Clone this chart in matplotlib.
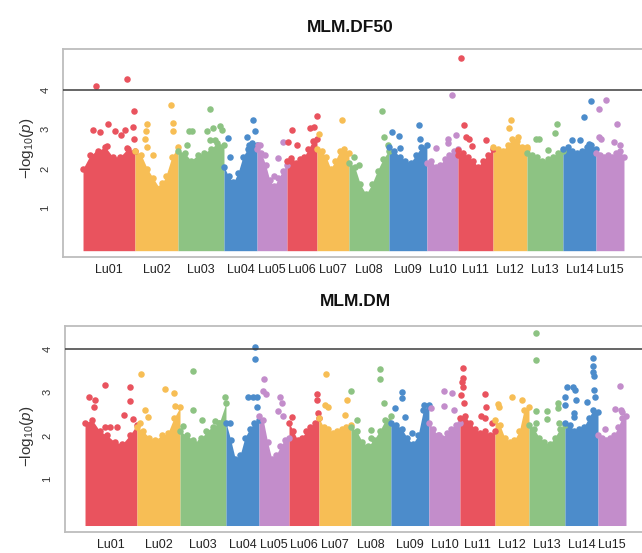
import numpy as np
import matplotlib
matplotlib.use("Agg")
import matplotlib.pyplot as plt

plt.rcParams['font.family'] = ['Liberation Sans', 'DejaVu Sans']
plt.rcParams['mathtext.fontset'] = 'custom'
plt.rcParams['mathtext.rm'] = 'Liberation Sans'
plt.rcParams['mathtext.it'] = 'Liberation Sans:italic'

# ---- genome layout -------------------------------------------------------
chromosomes = ["Lu01", "Lu02", "Lu03", "Lu04", "Lu05", "Lu06", "Lu07", "Lu08",
               "Lu09", "Lu10", "Lu11", "Lu12", "Lu13", "Lu14", "Lu15"]
chrom_length_mb = [28.6, 23.7, 25.3, 18.2, 16.5, 16.5, 17.6, 22.0,
                   20.9, 17.1, 19.3, 18.7, 19.8, 18.2, 15.4]
palette = ["#E9535E", "#F7BE55", "#8DC383", "#4C8CCB", "#C38DCB"]
threshold = 4.0

# ---- MLM.DF50 ------------------------------------------------------------
# upper edge of the dense SNP cloud, evenly spaced along each chromosome
df50_cloud_top = [
    [2.0, 2.35, 2.45, 2.55, 2.3, 2.3, 2.5, 2.45],
    [2.45, 2.35, 2.0, 1.75, 1.5, 1.8, 2.3, 2.55],
    [2.45, 2.4, 2.2, 2.35, 2.4, 2.5, 2.65, 2.6],
    [2.05, 1.8, 1.65, 1.9, 2.3, 2.5, 2.65, 2.6],
    [2.5, 2.4, 2.1, 1.7, 1.55, 1.75, 1.95, 2.1],
    [2.2, 2.2, 2.15, 2.25, 2.3, 2.5, 2.7, 2.75],
    [2.5, 2.45, 2.3, 2.0, 2.2, 2.45, 2.5, 2.4],
    [2.15, 2.05, 1.6, 1.35, 1.6, 1.95, 2.25, 2.45],
    [2.55, 2.45, 2.3, 2.2, 2.15, 2.35, 2.55, 2.6],
    [2.15, 2.2, 2.05, 2.1, 2.25, 2.35, 2.45, 2.5],
    [2.35, 2.4, 2.3, 2.2, 2.05, 2.2, 2.35, 2.5],
    [2.55, 2.5, 2.45, 2.6, 2.75, 2.7, 2.55, 2.5],
    [2.4, 2.35, 2.3, 2.2, 2.25, 2.3, 2.4, 2.45],
    [2.5, 2.55, 2.45, 2.4, 2.45, 2.55, 2.6, 2.5],
    [2.4, 2.35, 2.3, 2.35, 2.3, 2.4, 2.45, 2.3],
]
# individual SNPs above the cloud: (chromosome, position in Mb, -log10 p)
df50_snps = [
    ("Lu01", 6.9, 4.10), ("Lu01", 24.4, 4.26), ("Lu01", 27.9, 3.47),
    ("Lu01", 27.6, 3.06), ("Lu01", 5.7, 2.97), ("Lu01", 13.6, 3.12),
    ("Lu01", 9.4, 2.92), ("Lu01", 17.6, 2.96), ("Lu01", 20.7, 2.84),
    ("Lu01", 23.1, 2.97), ("Lu01", 28.1, 2.76), ("Lu01", 13.0, 2.57),
    ("Lu01", 7.5, 2.38), ("Lu01", 24.0, 2.51),
    ("Lu02", 19.8, 3.61), ("Lu02", 20.9, 3.16), ("Lu02", 21.1, 2.96),
    ("Lu02", 6.8, 3.14), ("Lu02", 5.9, 2.96), ("Lu02", 5.5, 2.76),
    ("Lu02", 6.4, 2.55), ("Lu02", 10.1, 2.34), ("Lu02", 15.0, 1.63),
    ("Lu03", 17.4, 3.50), ("Lu03", 6.1, 2.96), ("Lu03", 7.7, 2.96),
    ("Lu03", 15.8, 2.96), ("Lu03", 19.4, 3.04), ("Lu03", 23.1, 3.08),
    ("Lu03", 24.2, 2.99), ("Lu03", 4.8, 2.59), ("Lu03", 20.4, 2.72),
    ("Lu03", 17.6, 2.72),
    ("Lu04", 16.1, 3.23), ("Lu04", 17.2, 2.96), ("Lu04", 12.5, 2.81),
    ("Lu04", 2.4, 2.78), ("Lu04", 3.3, 2.30), ("Lu04", 13.8, 2.60),
    ("Lu05", 0.7, 2.61), ("Lu05", 1.7, 2.59), ("Lu05", 4.4, 2.34),
    ("Lu05", 14.5, 2.68), ("Lu05", 11.6, 2.26), ("Lu05", 9.2, 1.82),
    ("Lu06", 16.3, 3.34), ("Lu06", 14.9, 3.06), ("Lu06", 12.7, 3.02),
    ("Lu06", 2.6, 2.97), ("Lu06", 0.7, 2.68), ("Lu06", 5.3, 2.59),
    ("Lu06", 2.2, 2.27),
    ("Lu07", 13.6, 3.23), ("Lu07", 1.1, 2.87),
    ("Lu08", 18.0, 3.46), ("Lu08", 19.5, 2.80), ("Lu08", 21.6, 2.61),
    ("Lu08", 3.0, 2.30), ("Lu08", 5.5, 2.09),
    ("Lu09", 16.7, 3.10), ("Lu09", 1.5, 2.93), ("Lu09", 5.7, 2.82),
    ("Lu09", 17.1, 2.76), ("Lu09", 6.1, 2.51),
    ("Lu10", 13.9, 3.86), ("Lu10", 11.6, 2.74), ("Lu10", 11.8, 2.66),
    ("Lu10", 16.3, 2.85), ("Lu10", 5.0, 2.51),
    ("Lu11", 1.7, 4.81), ("Lu11", 3.3, 3.10), ("Lu11", 4.4, 2.80),
    ("Lu11", 6.3, 2.74), ("Lu11", 7.5, 2.57), ("Lu11", 15.4, 2.72),
    ("Lu11", 0.2, 2.47),
    ("Lu12", 9.9, 3.23), ("Lu12", 8.8, 3.04), ("Lu12", 13.9, 2.81),
    ("Lu12", 18.5, 2.55),
    ("Lu13", 16.5, 3.14), ("Lu13", 15.6, 2.89), ("Lu13", 4.8, 2.74),
    ("Lu13", 6.6, 2.74), ("Lu13", 11.7, 2.47),
    ("Lu14", 15.6, 3.72), ("Lu14", 11.6, 3.30), ("Lu14", 5.0, 2.72),
    ("Lu14", 9.4, 2.72), ("Lu14", 14.3, 2.62),
    ("Lu15", 5.3, 3.73), ("Lu15", 1.8, 3.52), ("Lu15", 11.4, 3.14),
    ("Lu15", 1.7, 2.81), ("Lu15", 2.8, 2.76), ("Lu15", 9.9, 2.68),
    ("Lu15", 13.2, 2.60),
]

# ---- MLM.DM --------------------------------------------------------------
dm_cloud_top = [
    [2.3, 2.35, 2.1, 2.0, 1.85, 1.8, 2.0, 2.25],
    [2.2, 2.1, 1.95, 1.9, 2.0, 2.05, 2.4, 2.65],
    [2.1, 2.0, 1.9, 1.85, 2.1, 2.2, 2.3, 2.75],
    [2.3, 1.9, 1.45, 1.55, 1.95, 2.15, 2.3, 2.35],
    [2.45, 2.35, 1.85, 1.45, 1.55, 1.75, 1.9, 1.95],
    [2.3, 2.1, 1.9, 1.95, 2.1, 2.2, 2.3, 2.4],
    [2.4, 2.2, 2.15, 2.05, 2.1, 2.15, 2.2, 2.25],
    [2.2, 2.1, 1.85, 1.75, 1.9, 2.1, 2.35, 2.45],
    [2.3, 2.25, 2.15, 1.95, 1.8, 2.0, 2.6, 2.7],
    [2.3, 2.15, 2.0, 1.95, 2.05, 2.15, 2.25, 2.3],
    [2.4, 2.45, 2.3, 2.15, 2.05, 2.1, 2.0, 2.1],
    [2.35, 2.25, 1.95, 1.85, 1.9, 2.1, 2.6, 2.65],
    [2.25, 2.15, 1.95, 1.85, 1.8, 1.95, 2.15, 2.25],
    [2.3, 2.25, 2.1, 2.15, 2.2, 2.4, 2.6, 2.55],
    [2.0, 1.95, 1.9, 1.95, 2.0, 2.2, 2.4, 2.45],
]
dm_snps = [
    ("Lu01", 11.0, 3.16), ("Lu01", 24.8, 3.12), ("Lu01", 2.2, 2.88),
    ("Lu01", 5.5, 2.81), ("Lu01", 25.0, 2.80), ("Lu01", 21.5, 2.47),
    ("Lu01", 26.6, 2.37), ("Lu01", 5.1, 2.65), ("Lu01", 11.0, 2.20),
    ("Lu01", 13.8, 2.20), ("Lu01", 17.6, 2.20),
    ("Lu02", 2.2, 3.42), ("Lu02", 15.4, 3.07), ("Lu02", 20.4, 2.99),
    ("Lu02", 4.4, 2.60), ("Lu02", 6.2, 2.42), ("Lu02", 1.7, 2.28),
    ("Lu02", 14.1, 1.76), ("Lu02", 20.9, 2.68),
    ("Lu03", 7.3, 3.49), ("Lu03", 7.3, 2.60), ("Lu03", 11.9, 2.36),
    ("Lu03", 11.8, 1.95), ("Lu03", 1.8, 2.22), ("Lu03", 19.3, 2.33),
    ("Lu03", 21.5, 2.30), ("Lu03", 25.0, 2.89),
    ("Lu04", 16.0, 4.05), ("Lu04", 16.0, 3.76), ("Lu04", 12.1, 2.88),
    ("Lu04", 14.9, 2.88), ("Lu04", 17.1, 2.88), ("Lu04", 16.9, 2.66),
    ("Lu04", 2.2, 2.28),
    ("Lu05", 2.8, 3.30), ("Lu05", 2.2, 3.03), ("Lu05", 3.6, 2.96),
    ("Lu05", 11.6, 2.89), ("Lu05", 12.5, 2.74), ("Lu05", 13.4, 2.45),
    ("Lu05", 10.3, 2.57),
    ("Lu06", 15.6, 2.96), ("Lu06", 15.4, 2.82), ("Lu06", 1.5, 2.43),
    ("Lu06", 16.0, 2.52),
    ("Lu07", 3.7, 3.42), ("Lu07", 15.6, 2.82), ("Lu07", 14.3, 2.47),
    ("Lu07", 3.3, 2.70), ("Lu07", 5.0, 2.65),
    ("Lu08", 15.8, 3.53), ("Lu08", 15.8, 3.30), ("Lu08", 0.2, 3.03),
    ("Lu08", 3.5, 2.36), ("Lu08", 18.2, 2.74), ("Lu08", 11.0, 2.12),
    ("Lu08", 11.0, 1.94),
    ("Lu09", 6.2, 3.01), ("Lu09", 6.2, 2.86), ("Lu09", 2.2, 2.63),
    ("Lu09", 7.7, 2.43), ("Lu09", 18.2, 2.70), ("Lu09", 11.7, 2.05),
    ("Lu10", 8.3, 3.03), ("Lu10", 12.7, 2.99), ("Lu10", 0.9, 2.63),
    ("Lu10", 8.3, 2.68), ("Lu10", 13.8, 2.59), ("Lu10", 5.5, 2.00),
    ("Lu11", 1.7, 3.55), ("Lu11", 1.7, 3.34), ("Lu11", 1.4, 3.24),
    ("Lu11", 1.7, 3.12), ("Lu11", 0.4, 2.93), ("Lu11", 13.8, 2.96),
    ("Lu11", 2.2, 2.74), ("Lu11", 14.1, 2.66), ("Lu11", 11.6, 2.45),
    ("Lu11", 13.8, 2.40), ("Lu11", 17.4, 2.28),
    ("Lu12", 9.5, 2.88), ("Lu12", 1.8, 2.72), ("Lu12", 2.1, 2.66),
    ("Lu12", 14.7, 2.82),
    ("Lu13", 4.0, 4.37), ("Lu13", 4.0, 3.74), ("Lu13", 4.0, 2.57),
    ("Lu13", 4.0, 2.29), ("Lu13", 10.1, 2.57), ("Lu13", 10.1, 2.39),
    ("Lu13", 15.8, 2.74), ("Lu13", 15.8, 2.63), ("Lu13", 16.5, 2.29),
    ("Lu14", 15.4, 3.78), ("Lu14", 15.4, 3.60), ("Lu14", 15.4, 3.47),
    ("Lu14", 16.0, 3.37), ("Lu14", 1.1, 3.12), ("Lu14", 4.4, 3.12),
    ("Lu14", 5.5, 3.05), ("Lu14", 0.2, 2.89), ("Lu14", 0.2, 2.70),
    ("Lu14", 5.9, 2.82), ("Lu14", 12.3, 2.78), ("Lu14", 16.0, 3.05),
    ("Lu14", 16.5, 2.89), ("Lu14", 5.1, 2.51), ("Lu14", 5.1, 2.43),
    ("Lu15", 11.9, 3.15), ("Lu15", 9.4, 2.62), ("Lu15", 12.5, 2.58),
    ("Lu15", 13.2, 2.55), ("Lu15", 3.7, 2.14),
]

# ---- drawing -------------------------------------------------------------
offsets = np.concatenate([[0.0], np.cumsum(chrom_length_mb)[:-1]])
genome_len = float(np.sum(chrom_length_mb))
chrom_index = {c: i for i, c in enumerate(chromosomes)}
pad = 0.037 * genome_len
dot_size = 22


def manhattan(ax, cloud_top, snps, ylim, title, title_xy, ylabel_xy):
    for i, top in enumerate(cloud_top):
        color = palette[i % len(palette)]
        x = offsets[i] + np.linspace(0, chrom_length_mb[i], len(top))
        ax.fill_between(x, -0.08, top, color=color, lw=0, zorder=2)
        ax.scatter(x, top, s=dot_size, color=color, lw=0, zorder=3)
        own = [(p, v) for c, p, v in snps if c == chromosomes[i]]
        if own:
            pos, val = zip(*own)
            ax.scatter(offsets[i] + np.array(pos), val, s=dot_size,
                       color=color, lw=0, zorder=3)

    ax.axhline(threshold, color="#3c3c3c", lw=1.1, zorder=4)
    ax.set_xlim(-pad, genome_len + pad)
    ax.set_ylim(*ylim)

    mids = offsets + np.array(chrom_length_mb) / 2
    ax.set_xticks(mids)
    ax.set_xticklabels(chromosomes, fontsize=9, color="#222222")
    ax.set_yticks([1, 2, 3, 4])
    ax.set_yticklabels(["1", "2", "3", "4"], rotation=90, va="center",
                       fontsize=8, color="#333333")
    ax.tick_params(axis="both", length=0)
    ax.tick_params(axis="x", pad=5)
    ax.tick_params(axis="y", pad=9)

    for side in ("top", "left", "bottom", "right"):
        ax.spines[side].set_color("#BDBDBD")
        ax.spines[side].set_linewidth(1.3)

    fig.text(title_xy[0], title_xy[1], title, ha="center", va="center",
             fontsize=12.5, fontweight="bold", color="#111111")
    fig.text(ylabel_xy[0], ylabel_xy[1], r"$-\mathrm{log}_{10}(\mathit{p})$",
             rotation=90, ha="center", va="center", fontsize=11,
             color="#333333")


W, H = 642, 553
fig = plt.figure(figsize=(W / 100, H / 100), dpi=100)

ax_top = fig.add_axes([63 / W, 1 - 257 / H, 581 / W, 208 / H])
manhattan(ax_top, df50_cloud_top, df50_snps, (-0.24, 5.03), "MLM.DF50",
          (350 / W, 1 - 28 / H), (27 / W, 1 - 148 / H))

ax_bot = fig.add_axes([65 / W, 1 - 532 / H, 581 / W, 206 / H])
manhattan(ax_bot, dm_cloud_top, dm_snps, (-0.23, 4.53), "MLM.DM",
          (355 / W, 1 - 302 / H), (27 / W, 1 - 436 / H))

fig.savefig("out.png", dpi=100)
